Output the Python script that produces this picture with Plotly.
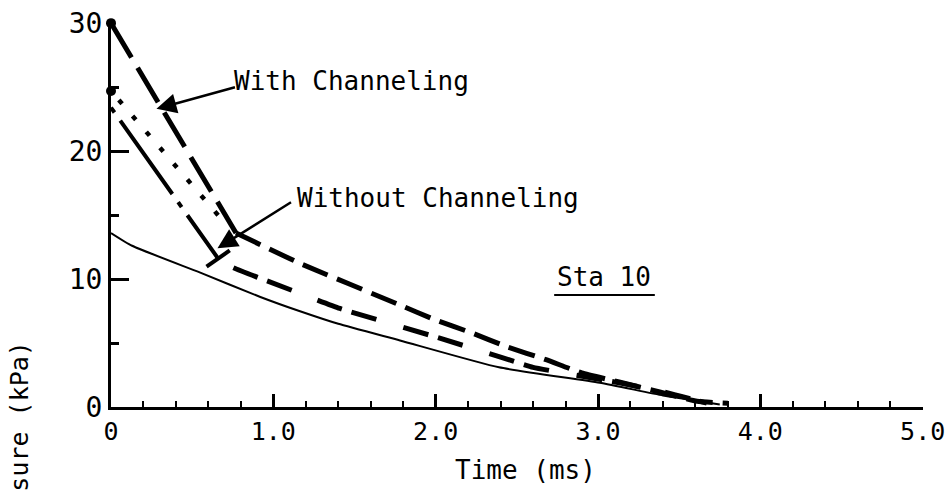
import plotly.graph_objects as go

# ---- data (time in ms, pressure in kPa) ----
with_init_t = [0.0, 0.77]
with_init_p = [30.0, 13.6]
with_decay_t = [0.77, 1.16, 1.78, 2.0, 2.22, 2.44, 2.68, 2.9, 3.13, 3.38, 3.61, 3.8]
with_decay_p = [13.6, 11.25, 7.97, 6.8, 5.8, 4.7, 3.7, 2.66, 1.95, 1.17, 0.45, 0.3]

dotted_t = [0.0, 0.7]
dotted_p = [24.7, 14.4]

without_init_t = [0.0, 0.66]
without_init_p = [23.4, 11.6]
without_decay_t = [0.66, 0.75, 1.16, 1.41, 2.02, 2.4, 2.6, 3.13, 3.4, 3.67]
without_decay_p = [11.6, 10.9, 8.9, 7.7, 5.4, 3.9, 3.1, 1.9, 1.2, 0.3]

thin_t = [0.0, 0.13, 0.55, 0.92, 1.16, 1.4, 1.78, 2.39, 3.01, 3.4, 3.75]
thin_p = [13.6, 12.6, 10.5, 8.6, 7.5, 6.5, 5.2, 3.1, 1.9, 0.9, 0.2]

x_tickvals = [0, 1, 2, 3, 4, 5]
x_ticktext = ["0", "1.0", "2.0", "3.0", "4.0", "5.0"]
y_tickvals = [0, 10, 20, 30]
y_ticktext = ["0", "10", "20", "30"]

FONT = "DejaVu Sans Mono"
BLACK = "#000000"

fig = go.Figure()

fig.add_trace(go.Scatter(x=thin_t, y=thin_p, mode="lines",
                         line=dict(color=BLACK, width=2, shape="spline", smoothing=0.5),
                         showlegend=False))
fig.add_trace(go.Scatter(x=without_init_t, y=without_init_p, mode="lines",
                         line=dict(color=BLACK, width=4, dash="6px,10px,90px,10px"),
                         showlegend=False))
fig.add_trace(go.Scatter(x=without_decay_t, y=without_decay_p, mode="lines",
                         line=dict(color=BLACK, width=5, dash="0px,18px,26px,10px,26px,10px",
                                   shape="spline", smoothing=0.4),
                         showlegend=False))
fig.add_trace(go.Scatter(x=dotted_t, y=dotted_p, mode="lines",
                         line=dict(color=BLACK, width=4.5, dash="0px,12px,5px,4px"),
                         showlegend=False))
fig.add_trace(go.Scatter(x=with_init_t, y=with_init_p, mode="lines",
                         line=dict(color=BLACK, width=5, dash="40px,12px"),
                         showlegend=False))
fig.add_trace(go.Scatter(x=with_decay_t, y=with_decay_p, mode="lines",
                         line=dict(color=BLACK, width=5, dash="27px,10px",
                                   shape="spline", smoothing=0.4),
                         showlegend=False))
# start dots
fig.add_trace(go.Scatter(x=[with_init_t[0], dotted_t[0]], y=[with_init_p[0], dotted_p[0]],
                         mode="markers", cliponaxis=False,
                         marker=dict(symbol="circle", size=10, color=BLACK, opacity=1),
                         showlegend=False))
# crossbar at end of the initial "without channeling" segment
fig.add_trace(go.Scatter(x=[without_init_t[-1]], y=[without_init_p[-1]],
                         mode="markers", cliponaxis=False,
                         marker=dict(symbol="line-ne", size=20, angle=10, opacity=1,
                                     color=BLACK, line=dict(color=BLACK, width=4)),
                         showlegend=False))

annotations = [
    # arrows
    dict(x=0.28, y=23.3, xref="x", yref="y", ax=80, ay=-22, text="",
         showarrow=True, arrowhead=2, arrowsize=1.6, arrowwidth=2.5, arrowcolor=BLACK),
    dict(x=0.656, y=12.4, xref="x", yref="y", ax=75, ay=-47, text="",
         showarrow=True, arrowhead=2, arrowsize=1.6, arrowwidth=2.5, arrowcolor=BLACK),
    # labels
    dict(x=0.745, y=25.5, xref="x", yref="y", text="With Channeling", showarrow=False,
         xanchor="left", yanchor="middle", font=dict(family=FONT, size=26, color=BLACK)),
    dict(x=1.135, y=16.3, xref="x", yref="y", text="Without Channeling", showarrow=False,
         xanchor="left", yanchor="middle", font=dict(family=FONT, size=26, color=BLACK)),
    dict(x=2.735, y=10.15, xref="x", yref="y", text="Sta 10", showarrow=False,
         xanchor="left", yanchor="middle", font=dict(family=FONT, size=26, color=BLACK)),
    dict(x=0.511, y=-0.165, xref="paper", yref="paper", text="Time (ms)", showarrow=False,
         xanchor="center", yanchor="middle", font=dict(family=FONT, size=26, color=BLACK)),
    dict(x=-0.112, y=-0.025, xref="paper", yref="paper", text="sure (kPa)", showarrow=False,
         textangle=-90, xanchor="center", yanchor="middle",
         font=dict(family=FONT, size=25, color=BLACK)),
]

shapes = [
    dict(type="line", xref="x", yref="y", x0=2.73, x1=3.35, y0=8.75, y1=8.75,
         line=dict(color=BLACK, width=2)),
]

fig.update_layout(
    width=945, height=493,
    margin=dict(l=111, r=22, t=23, b=86, autoexpand=False),
    paper_bgcolor="white", plot_bgcolor="white",
    annotations=annotations, shapes=shapes,
    font=dict(family=FONT, size=26, color=BLACK),
    xaxis=dict(range=[0, 5.002], showgrid=False, zeroline=False, automargin=False,
               showline=True, linecolor=BLACK, linewidth=3,
               tickvals=x_tickvals, ticktext=x_ticktext,
               ticks="inside", ticklen=13, tickwidth=3, tickcolor=BLACK,
               ticklabeloverflow="allow",
               minor=dict(dtick=0.2, tick0=0, ticks="inside", ticklen=6,
                          tickwidth=2, tickcolor=BLACK),
               tickfont=dict(family=FONT, size=25, color=BLACK)),
    yaxis=dict(range=[0, 30.01], showgrid=False, zeroline=False, automargin=False,
               showline=True, linecolor=BLACK, linewidth=3,
               tickvals=y_tickvals, ticktext=y_ticktext,
               ticks="inside", ticklen=18, tickwidth=3, tickcolor=BLACK,
               ticklabeloverflow="allow",
               minor=dict(dtick=5, tick0=0, ticks="inside", ticklen=8,
                          tickwidth=3, tickcolor=BLACK),
               tickfont=dict(family=FONT, size=28, color=BLACK)),
)

fig.write_html("out.html", config={"displayModeBar": False},
               post_script="document.body.style.margin='0';document.body.style.padding='0';")
